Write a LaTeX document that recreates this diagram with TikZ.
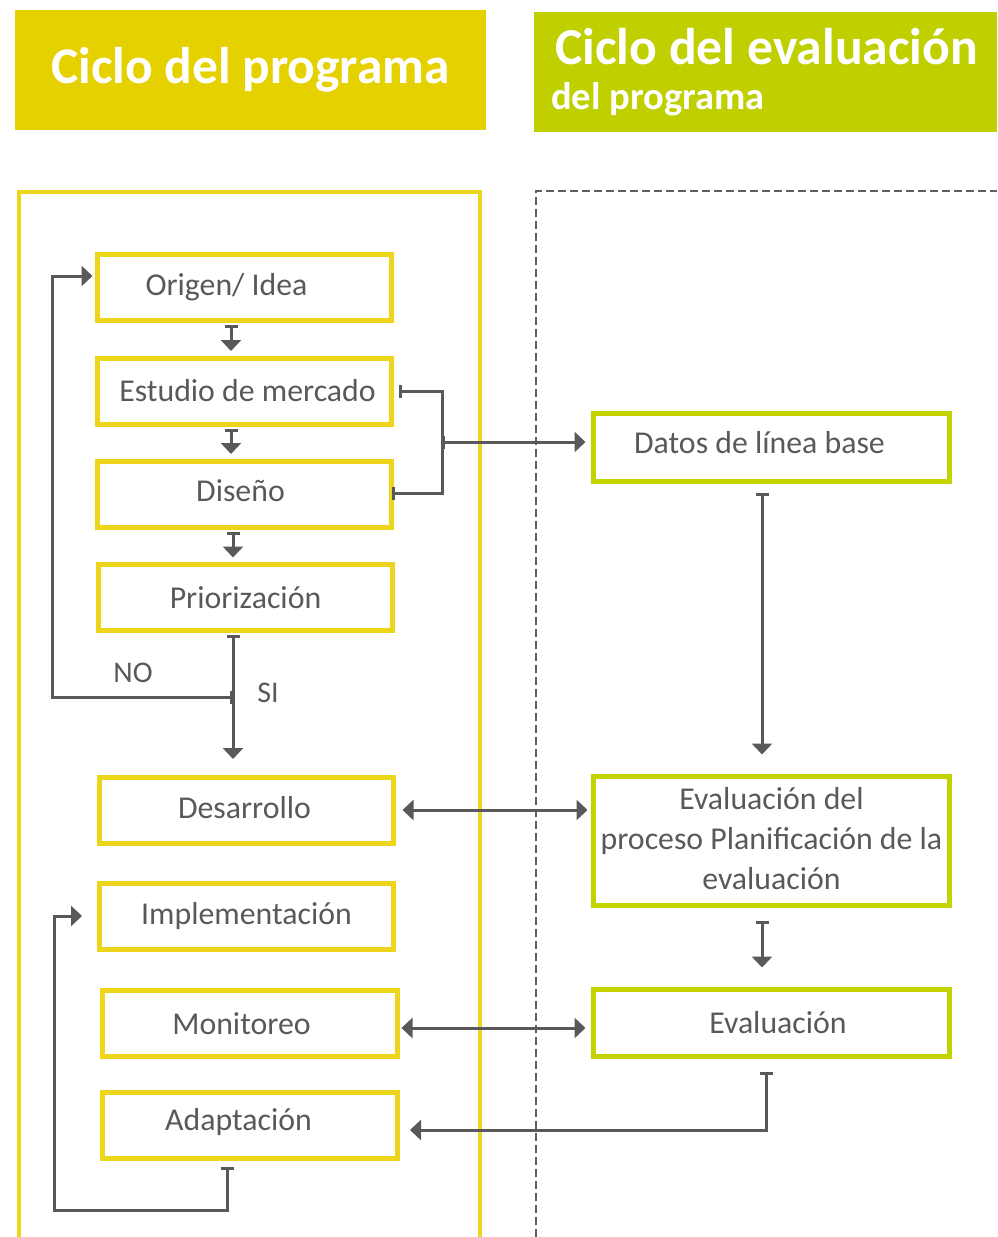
\documentclass[tikz,border=0pt]{standalone}
\usepackage{fontspec}
\setmainfont{Carlito}
\usetikzlibrary{arrows.meta,calc}
\definecolor{inkgray}{HTML}{595959}
\definecolor{progyellow}{HTML}{EDD51B}
\definecolor{hdryellow}{HTML}{E6D100}
\definecolor{evalgreen}{HTML}{C3D300}
\definecolor{hdrgreen}{HTML}{C0CF00}
\definecolor{dashgray}{HTML}{5F5F5F}

\begin{document}
\begin{tikzpicture}[x=1pt,y=-1pt,
  boxtext/.style={text=inkgray, font=\fontsize{31.8}{40}\selectfont},
  ybox/.style={boxtext, draw=progyellow, line width=5pt, minimum width=294pt,
    minimum height=66pt, inner sep=0pt, align=center},
  gbox/.style={boxtext, draw=evalgreen, line width=5pt, minimum width=356pt,
    minimum height=68pt, inner sep=0pt, align=center},
  hdrtext/.style={text=white, font=\fontsize{51.5}{60}\selectfont\bfseries},
  conn/.style={draw=inkgray, line width=3pt, -{Triangle[length=11pt,width=20pt]}},
  tconn/.style={draw=inkgray, line width=3pt,
    {Bar[width=13pt]}-{Triangle[length=11pt,width=20pt]}},
  biconn/.style={draw=inkgray, line width=3pt,
    {Triangle[length=11pt,width=20pt]}-{Triangle[length=11pt,width=20pt]}},
  bbconn/.style={draw=inkgray, line width=3pt, {Bar[width=13pt]}-{Bar[width=13pt]}},
]
\useasboundingbox (0,0) rectangle (997,1237);

% headers
\node[fill=hdryellow, minimum width=471pt, minimum height=120pt, inner sep=0pt,
  hdrtext] (hdrprog) at (250.5,70) {Ciclo del programa};
\node[fill=hdrgreen, minimum width=463pt, minimum height=120pt, inner sep=0pt]
  (hdreval) at (765.5,72) {};
\node[text=white, font=\fontsize{51.7}{60}\selectfont\bfseries, anchor=base west,
  inner sep=0pt] (hdrevalA) at (555,64) {Ciclo del evaluación};
\node[text=white, font=\fontsize{38.5}{44}\selectfont\bfseries, anchor=base west,
  inner sep=0pt] (hdrevalB) at (551,109) {del programa};

% lanes
\draw[progyellow, line width=4pt] (19,1237) -- (19,192) -- (480,192) -- (480,1237);
\draw[dashgray, line width=2.5pt, dash pattern=on 8pt off 4pt] (536,1237) -- (536,191) -- (997,191);

% program cycle
\node[ybox] (origen) at (244.5,287.5) {\raisebox{3pt}{Origen/ Idea}\hspace*{36pt}};
\node[ybox] (estudio) at (244.5,391) {\hspace*{6pt}Estudio de mercado};
\node[ybox] (diseno) at (244.5,494) {\raisebox{6pt}{Diseño}\hspace*{8pt}};
\node[ybox] (prior) at (245.5,597.5) {\raisebox{-2pt}{Priorización}};
\node[ybox] (desarrollo) at (246.5,810) {\raisebox{5pt}{Desarrollo}\hspace*{4pt}};
\node[ybox] (implem) at (246.5,916.5) {\raisebox{5pt}{Implementación}};
\node[ybox, minimum width=295pt] (monit) at (250,1023.5) {\raisebox{-2pt}{Monitoreo}\hspace*{17pt}};
\node[ybox, minimum width=295pt] (adapt) at (250,1125.5) {\raisebox{13pt}{Adaptación}\hspace*{23pt}};

% evaluation cycle
\node[gbox] (datos) at (771.5,447.5) {\raisebox{10pt}{Datos de línea base}\hspace*{24pt}};
\node[gbox, minimum height=129pt] (evalproc) at (771.5,841)
  {\raisebox{10pt}{\begin{tabular}{@{}c@{}}Evaluación del\\proceso Planificación de la\\evaluación\end{tabular}}};
\node[gbox, minimum height=67pt] (eval) at (771.5,1023) {\hspace*{13pt}Evaluación};

\node[boxtext, font=\fontsize{30}{36}\selectfont] (nolabel) at (133,673) {NO};
\node[boxtext, font=\fontsize{30}{36}\selectfont] (silabel) at (268,693) {SI};

% free ends of connectors
\coordinate (sidown) at (233,759);
\coordinate (nojoin) at (233,697);
\coordinate (noleft) at (52,697);
\coordinate (brtop) at (442,391);
\coordinate (brk) at (442,442);
\coordinate (brbot) at (442,493);
\coordinate (evcorner) at (766,1130);
\coordinate (adaptin) at (410,1130);
\coordinate (adcornerA) at (227,1210);
\coordinate (adcornerB) at (54,1210);
\coordinate (implin) at (82,916);

% connectors, program side
\draw[tconn] ($(origen.south)+(-13.5,2)$) -- ($(estudio.north)+(-13.5,-4.5)$);
\draw[tconn] ($(estudio.south)+(-13.5,2)$) -- ($(diseno.north)+(-13.5,-4.5)$);
\draw[tconn] ($(diseno.south)+(-11.5,2)$) -- ($(prior.north)+(-12.5,-4.5)$);
\draw[tconn] ($(prior.south)+(-12.5,2)$) -- (sidown);
\draw[tconn] (nojoin) -- (noleft) |- ($(origen.west)+(-2.5,-11.5)$);
\draw[bbconn] ($(estudio.east)+(4.5,0)$) -- (brtop) -- (brbot) -- ($(diseno.east)+(-2.5,-1)$);
\draw[tconn] (brk) -- ($(brk -| datos.west)+(-5.5,0)$);

% connectors, evaluation side
\draw[tconn] ($(datos.south)+(-9.5,8.5)$) -- ($(evalproc.north)+(-9.5,-19.5)$);
\draw[biconn] ($(desarrollo.east)+(6.5,0)$) -- ($(desarrollo.east -| evalproc.west)+(-3.5,0)$);
\draw[tconn] ($(evalproc.south)+(-9.5,12.5)$) -- ($(eval.north)+(-9.5,-19.5)$);
\draw[biconn] ($(monit.east)+(1.5,4.5)$) -- ($(monit.east -| eval.west)+(-5.5,4.5)$);
\draw[tconn] ($(eval.south)+(-5.5,12.5)$) -- (evcorner) -- (adaptin);
\draw[tconn] ($(adapt.south)+(-23,5.5)$) -- (adcornerA) -- (adcornerB) |- (implin);
\end{tikzpicture}
\end{document}
